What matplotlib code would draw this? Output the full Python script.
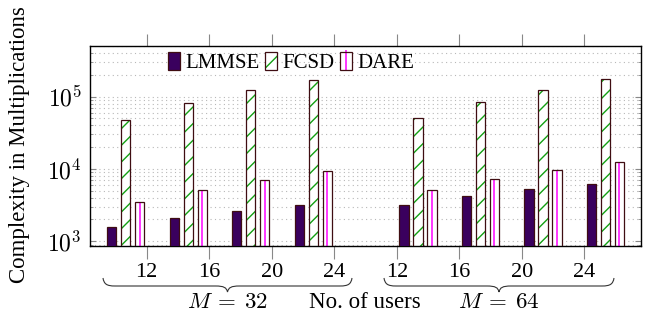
import matplotlib.pyplot as plt
import numpy as np
from matplotlib.lines import Line2D
from matplotlib.patches import Patch, PathPatch
from matplotlib.path import Path
from matplotlib.ticker import LogLocator, FuncFormatter, NullFormatter

plt.rcParams['font.family'] = ['Liberation Serif', 'DejaVu Serif']
plt.rcParams['mathtext.fontset'] = 'cm'
plt.rcParams['hatch.linewidth'] = 1.0

# number of users per group
users = [12, 16, 20, 24]
lmmse_m32 = [1550, 2070, 2580, 3130]
fcsd_m32 = [48000, 81000, 123000, 170000]
dare_m32 = [3440, 5170, 6960, 9300]
lmmse_m64 = [3130, 4170, 5210, 6250]
fcsd_m64 = [50000, 84000, 125000, 177000]
dare_m64 = [5060, 7240, 9780, 12400]

purple = '#3a005e'
edge = '#3f0d12'
green = '#14a014'
magenta = '#ff00ff'

W, H = 649, 316
fig = plt.figure(figsize=(W / 100, H / 100), dpi=100)
ax = fig.add_axes([90 / W, 1 - 246 / H, 551 / W, 200 / H])
ax.set_yscale('log')

width = 0.15
idx = np.arange(len(users))


def draw_series(x, values, kind):
    if kind == 'solid':
        ax.bar(x, values, width, bottom=1, color=purple, edgecolor=edge, linewidth=0.9, zorder=3)
        return
    if kind == 'diag':
        ax.bar(x, values, width, bottom=1, color='white', edgecolor=green, hatch='//', linewidth=0, zorder=2)
    else:
        ax.bar(x, values, width, bottom=1, color='white', linewidth=0, zorder=2)
        ax.vlines(x, 1, values, color=magenta, linewidth=1.1, zorder=2.5)
    ax.bar(x, values, width, bottom=1, facecolor='none', edgecolor=edge, linewidth=0.9, zorder=3)


# M = 32 sits left of each tick, M = 64 right of it
draw_series(idx - 0.56, lmmse_m32, 'solid')
draw_series(idx - 0.336, fcsd_m32, 'diag')
draw_series(idx - 0.112, dare_m32, 'vert')
draw_series(idx + len(users) + 0.112, lmmse_m64, 'solid')
draw_series(idx + len(users) + 0.336, fcsd_m64, 'diag')
draw_series(idx + len(users) + 0.56, dare_m64, 'vert')

ax.set_xlim(-0.907, 7.904)
ax.set_ylim(860, 5e5)

ax.set_xticks(np.arange(2 * len(users)))
ax.set_xticklabels([str(u) for u in users] * 2)
ax.tick_params(axis='x', which='both', direction='out', length=9, width=0.8,
               color='#888888', top=True, labelsize=16, pad=3)

ax.yaxis.set_major_locator(LogLocator(base=10))
ax.yaxis.set_minor_locator(LogLocator(base=10, subs=np.arange(2, 10)))
ax.yaxis.set_major_formatter(FuncFormatter(lambda v, _: r'$10^{%d}$' % round(np.log10(v))))
ax.yaxis.set_minor_formatter(NullFormatter())
ax.tick_params(axis='y', which='major', direction='in', length=4.5, width=0.8,
               color='#888888', right=True, labelsize=17, pad=6)
ax.tick_params(axis='y', which='minor', direction='in', length=2.5, width=0.6,
               color='#888888', right=True)

ax.grid(True, axis='y', which='both', linestyle=(0, (1, 3)), color='#b8b8b8', linewidth=0.8, zorder=0)
ax.set_axisbelow(True)
for s in ax.spines.values():
    s.set_linewidth(1.0)

# legend
h_lmmse = Patch(facecolor=purple, edgecolor=edge, linewidth=0.9)
h_fcsd = (Patch(facecolor='white', edgecolor=green, hatch='//', linewidth=0),
          Patch(facecolor='none', edgecolor=edge, linewidth=0.9))
h_dare = (Patch(facecolor='white', linewidth=0),
          Line2D([], [], color=magenta, marker='|', markersize=14, markeredgewidth=1.1, linestyle='none'),
          Patch(facecolor='none', edgecolor=edge, linewidth=0.9))
ax.legend([h_lmmse, h_fcsd, h_dare], ['LMMSE', 'FCSD', 'DARE'], ncol=3, frameon=False,
          loc='center', bbox_to_anchor=(0.365, 0.9175), fontsize=15,
          handlelength=0.55, handleheight=1.0, handletextpad=0.25, columnspacing=0.3,
          borderpad=0)


def brace(x0, x1, y0, d=8, t=6, r=12):
    xm = (x0 + x1) / 2
    pts = [(x0, y0),
           (x0 + 1, y0 + d * 0.75), (x0 + r * 0.3, y0 + d), (x0 + r, y0 + d),
           (xm - r, y0 + d),
           (xm - r * 0.3, y0 + d), (xm - 1, y0 + d + t * 0.25), (xm, y0 + d + t),
           (xm + 1, y0 + d + t * 0.25), (xm + r * 0.3, y0 + d), (xm + r, y0 + d),
           (x1 - r, y0 + d),
           (x1 - r * 0.3, y0 + d), (x1 - 1, y0 + d * 0.75), (x1, y0)]
    codes = ([Path.MOVETO] + [Path.CURVE4] * 3 + [Path.LINETO] + [Path.CURVE4] * 6
             + [Path.LINETO] + [Path.CURVE4] * 3)
    verts = [(x / W, 1 - y / H) for x, y in pts]
    fig.add_artist(PathPatch(Path(verts, codes), transform=fig.transFigure,
                             facecolor='none', edgecolor='#333333', linewidth=0.8))


brace(103, 352, 278)
brace(384, 614, 278)
fig.text(227 / W, 1 - 302 / H, r'$M\:=\:32$', ha='center', va='center', fontsize=16.5)
fig.text(499 / W, 1 - 302 / H, r'$M\:=\:64$', ha='center', va='center', fontsize=16.5)
fig.text(365 / W, 1 - 302 / H, 'No. of users', ha='center', va='center', fontsize=16.5)
fig.text(20 / W, 1 - 145 / H, 'Complexity in Multiplications', rotation=90,
         ha='center', va='center', fontsize=16.5)

fig.savefig('out.png', dpi=100)
